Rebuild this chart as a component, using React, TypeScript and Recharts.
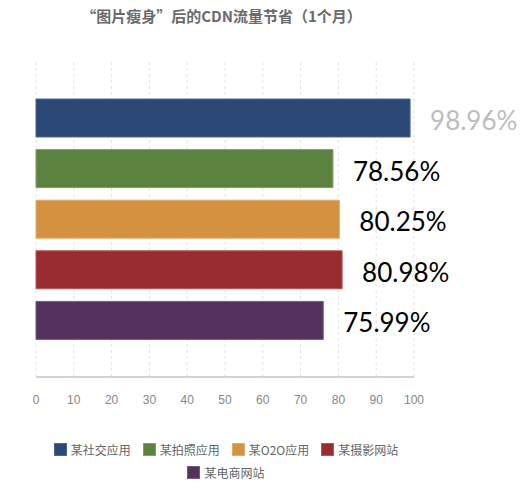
import React from "react";
import {
  BarChart,
  Bar,
  XAxis,
  YAxis,
  CartesianGrid,
  Cell,
  LabelList,
} from "recharts";

// categories and values
const categories = ["某社交应用", "某拍照应用", "某O2O应用", "某摄影网站", "某电商网站"];
const savings = [98.96, 78.56, 80.25, 80.98, 75.99];
const xTicks = [0, 10, 20, 30, 40, 50, 60, 70, 80, 90, 100];

const barColors = ["#2c4877", "#5b823f", "#d4913f", "#992c2e", "#55325e"];
const barStrokes = ["#4d6890", "#7fa066", "#e2ad6c", "#b65658", "#775a80"];
const labelColors = ["#bdbdbd", "#000000", "#000000", "#000000", "#000000"];

const data = categories.map((name, i) => ({ name, value: savings[i] }));

const cjkFont = '"Noto Sans CJK SC", "Noto Sans", sans-serif';

const ValueLabel = (props: any) => {
  const { x, y, width, height, value, index } = props;
  return (
    <text
      x={x + width + 20}
      y={y + height / 2 + 2}
      dominantBaseline="central"
      fontSize={26}
      fontFamily="Lato, 'Open Sans', sans-serif"
      fill={labelColors[index]}
    >
      {`${value.toFixed(2)}%`}
    </text>
  );
};

export default function App() {
  return (
    <div style={{ position: "absolute", left: 0, top: 0, width: 530, height: 487, background: "#fff" }}>
      <div
        style={{
          position: "absolute",
          top: 5,
          left: 0,
          width: 443,
          textAlign: "center",
          fontFamily: cjkFont,
          fontWeight: 700,
          fontSize: 15,
          color: "#6b6b6b",
        }}
      >
        “图片瘦身”后的CDN流量节省（1个月）
      </div>

      <BarChart
        width={530}
        height={487}
        data={data}
        layout="vertical"
        margin={{ top: 62, right: 116, left: 36, bottom: 80 }}
      >
        <CartesianGrid horizontal={false} strokeDasharray="3 3" stroke="#e2e2e2" />
        <XAxis
          type="number"
          domain={[0, 100]}
          ticks={xTicks}
          height={30}
          tickLine={false}
          tickMargin={12}
          axisLine={{ stroke: "#c6c6c6", strokeWidth: 1.5 }}
          tick={{ fill: "#868686", fontSize: 12, fontFamily: "'Liberation Sans', Arial, sans-serif" }}
        />
        <YAxis
          type="category"
          dataKey="name"
          width={0}
          tick={false}
          tickLine={false}
          padding={{ top: 31, bottom: 31 }}
          axisLine={{ stroke: "#c6c6c6", strokeWidth: 1.5 }}
        />
        <Bar dataKey="value" barSize={38} isAnimationActive={false}>
          {data.map((_, i) => (
            <Cell key={`c-${i}`} fill={barColors[i]} stroke={barStrokes[i]} strokeWidth={1} />
          ))}
          <LabelList dataKey="value" content={<ValueLabel />} />
        </Bar>
      </BarChart>

      <div
        style={{
          position: "absolute",
          top: 441,
          left: 31,
          width: 390,
          display: "flex",
          flexWrap: "wrap",
          justifyContent: "center",
          columnGap: 12,
          rowGap: 7,
          fontFamily: cjkFont,
          fontSize: 12,
          color: "#666666",
        }}
      >
        {categories.map((name, i) => (
          <div key={name} style={{ display: "flex", alignItems: "center", gap: 4, height: 16 }}>
            <div
              style={{
                width: 13,
                height: 13,
                background: barColors[i],
                border: `1px solid ${barStrokes[i]}`,
                boxSizing: "border-box",
              }}
            />
            <span>{name}</span>
          </div>
        ))}
      </div>
    </div>
  );
}
